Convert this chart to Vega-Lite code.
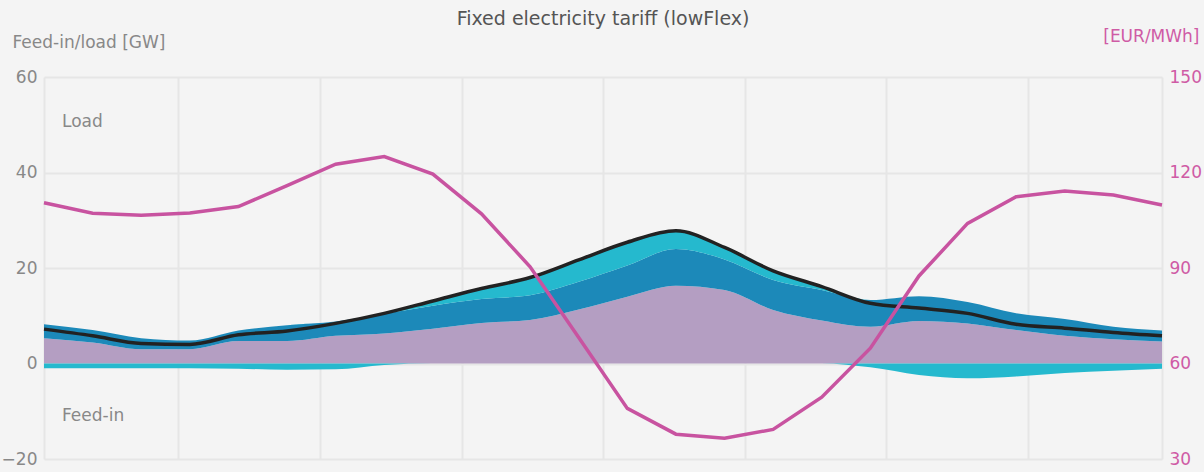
{
  "$schema": "https://vega.github.io/schema/vega-lite/v6.json",
  "width": 1118,
  "height": 382,
  "autosize": {"type": "none"},
  "padding": {"left": 44, "top": 77, "right": 42, "bottom": 13},
  "background": "#f4f4f4",
  "config": {"view": {"stroke": null}, "font": "DejaVu Sans"},
  "title": {"text": "Fixed electricity tariff (lowFlex)", "fontSize": 19, "fontWeight": "normal", "color": "#555555", "anchor": "middle", "frame": "group", "offset": -2},
  "datasets": {
    "hourly": [
      {"hour": 0, "base": 5.3, "flex": 2.9, "storage": 0, "feedin": -1.0, "netload": 7.2, "price": 110.5},
      {"hour": 1, "base": 4.4, "flex": 2.6, "storage": 0, "feedin": -1.0, "netload": 5.8, "price": 107.2},
      {"hour": 2, "base": 3.0, "flex": 2.3, "storage": 0, "feedin": -1.0, "netload": 4.2, "price": 106.6},
      {"hour": 3, "base": 3.0, "flex": 1.8, "storage": 0, "feedin": -1.0, "netload": 4.0, "price": 107.3},
      {"hour": 4, "base": 4.7, "flex": 2.2, "storage": 0, "feedin": -1.1, "netload": 6.0, "price": 109.3},
      {"hour": 5, "base": 4.7, "flex": 3.3, "storage": 0, "feedin": -1.3, "netload": 6.8, "price": 115.9},
      {"hour": 6, "base": 5.8, "flex": 3.0, "storage": 0, "feedin": -1.2, "netload": 8.4, "price": 122.6},
      {"hour": 7, "base": 6.3, "flex": 4.1, "storage": 0.2, "feedin": -0.3, "netload": 10.5, "price": 125.0},
      {"hour": 8, "base": 7.3, "flex": 4.8, "storage": 1.0, "feedin": 0, "netload": 13.1, "price": 119.5},
      {"hour": 9, "base": 8.5, "flex": 5.0, "storage": 2.2, "feedin": 0, "netload": 15.7, "price": 107.0},
      {"hour": 10, "base": 9.1, "flex": 5.2, "storage": 3.7, "feedin": 0, "netload": 18.0, "price": 90.4},
      {"hour": 11, "base": 11.3, "flex": 5.8, "storage": 4.6, "feedin": 0, "netload": 21.7, "price": 68.2},
      {"hour": 12, "base": 14.0, "flex": 6.5, "storage": 4.9, "feedin": 0, "netload": 25.4, "price": 45.9},
      {"hour": 13, "base": 16.3, "flex": 7.7, "storage": 3.8, "feedin": 0, "netload": 27.8, "price": 37.8},
      {"hour": 14, "base": 15.4, "flex": 6.4, "storage": 2.5, "feedin": 0, "netload": 24.3, "price": 36.5},
      {"hour": 15, "base": 11.2, "flex": 6.3, "storage": 1.9, "feedin": 0, "netload": 19.4, "price": 39.3},
      {"hour": 16, "base": 9.0, "flex": 6.4, "storage": 0.7, "feedin": 0, "netload": 16.1, "price": 49.4},
      {"hour": 17, "base": 7.7, "flex": 5.6, "storage": 0, "feedin": -0.8, "netload": 12.6, "price": 64.8},
      {"hour": 18, "base": 8.9, "flex": 5.2, "storage": 0, "feedin": -2.4, "netload": 11.6, "price": 87.5},
      {"hour": 19, "base": 8.4, "flex": 4.5, "storage": 0, "feedin": -3.1, "netload": 10.5, "price": 104.0},
      {"hour": 20, "base": 7.0, "flex": 3.5, "storage": 0, "feedin": -2.7, "netload": 8.2, "price": 112.4},
      {"hour": 21, "base": 5.8, "flex": 3.5, "storage": 0, "feedin": -2.0, "netload": 7.4, "price": 114.2},
      {"hour": 22, "base": 5.1, "flex": 2.6, "storage": 0, "feedin": -1.5, "netload": 6.5, "price": 112.9},
      {"hour": 23, "base": 4.6, "flex": 2.3, "storage": 0, "feedin": -1.1, "netload": 5.8, "price": 109.8}
    ],
    "labels": [
      {"hour": 0.37, "gw": 50.6, "label": "Load"},
      {"hour": 0.37, "gw": -11.0, "label": "Feed-in"}
    ]
  },
  "data": {"name": "hourly"},
  "encoding": {
    "x": {
      "field": "hour",
      "type": "quantitative",
      "scale": {"domain": [0, 23], "nice": false, "zero": false},
      "axis": {"values": [0, 2.763, 5.678, 8.593, 11.506, 14.421, 17.332, 20.249, 23], "labels": false, "ticks": false, "domain": false, "grid": true, "gridColor": "#e6e6e6", "gridWidth": 2, "title": null}
    }
  },
  "layer": [
    {
      "layer": [
        {
          "transform": [{"fold": ["base", "flex", "storage"], "as": ["series", "value"]}],
          "mark": {"type": "area", "interpolate": "monotone", "opacity": 1},
          "encoding": {
            "y": {
              "field": "value",
              "type": "quantitative",
              "stack": "zero",
              "scale": {"domain": [-20, 60], "nice": false, "zero": false},
              "axis": {"title": "Feed-in/load [GW]", "titleAngle": 0, "titleAlign": "left", "titleBaseline": "alphabetic", "titleX": -32, "titleY": -30, "titleColor": "#888888", "titleFontSize": 17, "titleFontWeight": "normal", "values": [-20, 0, 20, 40, 60], "labelColor": "#888888", "labelFontSize": 17, "labelPadding": 7, "ticks": false, "domain": false, "grid": true, "gridColor": "#e6e6e6", "gridWidth": 2}
            },
            "color": {"field": "series", "type": "nominal", "scale": {"domain": ["base", "flex", "storage"], "range": ["#b49ec2", "#1c89b9", "#25b9ce"]}, "legend": null},
            "order": {"field": "series", "sort": "ascending"}
          }
        },
        {
          "mark": {"type": "area", "interpolate": "monotone", "color": "#25b9ce", "opacity": 1},
          "encoding": {"y": {"field": "feedin", "type": "quantitative", "stack": null}}
        },
        {
          "data": {"values": [{}]},
          "mark": {"type": "rule", "color": "#999999", "strokeWidth": 1.5},
          "encoding": {"y": {"datum": 0}}
        },
        {
          "mark": {"type": "line", "interpolate": "monotone", "color": "#222222", "strokeWidth": 3.5},
          "encoding": {"y": {"field": "netload", "type": "quantitative"}}
        },
        {
          "data": {"name": "labels"},
          "mark": {"type": "text", "align": "left", "baseline": "middle", "fontSize": 17, "color": "#888888"},
          "encoding": {"y": {"field": "gw", "type": "quantitative"}, "text": {"field": "label"}}
        }
      ]
    },
    {
      "mark": {"type": "line", "color": "#c853a0", "strokeWidth": 3.5},
      "encoding": {
        "y": {
          "field": "price",
          "type": "quantitative",
          "scale": {"domain": [30, 150], "nice": false, "zero": false},
          "axis": {"orient": "right", "title": "[EUR/MWh]", "titleAngle": 0, "titleAlign": "right", "titleBaseline": "alphabetic", "titleX": 37, "titleY": -36, "titleColor": "#cf5ba5", "titleFontSize": 17, "titleFontWeight": "normal", "values": [30, 60, 90, 120, 150], "labelColor": "#cf5ba5", "labelFontSize": 17, "labelPadding": 7, "ticks": false, "domain": false, "grid": false}
        }
      }
    }
  ],
  "resolve": {"scale": {"y": "independent"}}
}
